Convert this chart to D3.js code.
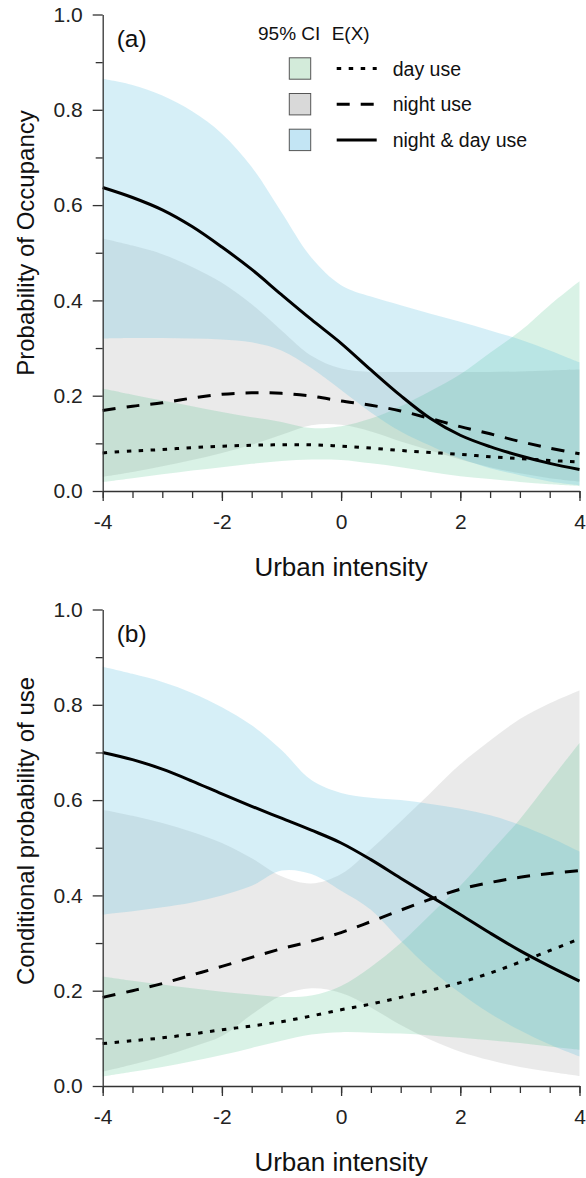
<!DOCTYPE html>
<html>
<head>
<meta charset="utf-8">
<script src="https://cdn.jsdelivr.net/npm/d3@7"></script>
<style>
  body { margin: 0; background: #fff; }
  svg { display: block; font-family: "Liberation Sans", Arial, sans-serif; }
  .axis path, .axis line { stroke: #333; stroke-width: 1.3; }
  .axis text { font-size: 21px; fill: #222; font-family: "Liberation Sans", Arial, sans-serif; }
</style>
</head>
<body>
<div id="chart"></div>
<script>
// Urban intensity values where curves were read
var urban = [-4, -3.5, -3, -2.5, -2, -1.5, -1, -0.5, 0, 0.5, 1, 1.5, 2, 2.5, 3, 3.5, 4];

// (a) Probability of occupancy
var occDay      = [.080,.084,.087,.091,.094,.096,.097,.097,.094,.090,.085,.081,.077,.072,.068,.064,.061];
var occNight    = [.169,.178,.185,.195,.203,.206,.205,.199,.189,.180,.168,.152,.135,.120,.104,.090,.078];
var occBoth     = [.637,.616,.590,.555,.512,.465,.412,.360,.310,.254,.200,.152,.117,.093,.074,.058,.045];
var occDayHi    = [.215,.202,.190,.178,.166,.155,.145,.132,.136,.152,.178,.210,.245,.290,.335,.390,.440];
var occDayLo    = [.019,.027,.035,.043,.050,.057,.063,.066,.065,.058,.050,.040,.031,.025,.019,.014,.010];
var occNightHi  = [.530,.515,.497,.470,.437,.392,.337,.284,.257,.250,.250,.250,.250,.250,.251,.253,.255];
var occNightLo  = [.030,.040,.052,.065,.080,.097,.118,.138,.139,.125,.104,.085,.066,.050,.037,.027,.020];
var occBothHi   = [.865,.852,.830,.797,.750,.680,.585,.490,.432,.408,.390,.372,.355,.337,.318,.295,.270];
var occBothLo   = [.320,.321,.321,.320,.318,.312,.295,.258,.212,.165,.125,.095,.068,.048,.033,.020,.012];

// (b) Conditional probability of use
var useDay      = [.089,.095,.101,.109,.118,.126,.135,.147,.160,.172,.186,.201,.217,.237,.260,.284,.309];
var useNight    = [.186,.200,.215,.233,.251,.270,.288,.304,.322,.345,.369,.392,.413,.427,.438,.446,.452];
var useBoth     = [.700,.685,.665,.640,.613,.587,.562,.537,.510,.475,.436,.398,.360,.321,.284,.251,.220];
var useDayHi    = [.230,.221,.213,.205,.198,.192,.187,.190,.210,.250,.300,.360,.420,.490,.560,.640,.720];
var useDayLo    = [.020,.030,.040,.052,.065,.080,.095,.108,.113,.112,.110,.106,.101,.096,.090,.083,.076];
var useNightHi  = [.580,.567,.552,.533,.510,.478,.440,.425,.445,.497,.555,.615,.675,.725,.770,.803,.830];
var useNightLo  = [.030,.045,.062,.082,.105,.150,.190,.205,.195,.165,.128,.097,.072,.054,.040,.030,.021];
var useBothHi   = [.880,.865,.848,.825,.795,.757,.705,.642,.615,.605,.600,.592,.582,.568,.548,.522,.492];
var useBothLo   = [.360,.367,.375,.385,.400,.420,.452,.445,.410,.370,.305,.245,.195,.152,.117,.087,.062];

var xMajor = [-4, -2, 0, 2, 4];
var yMajor = [0, 0.2, 0.4, 0.6, 0.8, 1.0];
var seriesNames = ["day use", "night use", "night & day use"];

var W = 586, H = 1178;
var svg = d3.select("#chart").append("svg").attr("width", W).attr("height", H);

var bandStyle = [
  { fill: "#14b064", op: 0.16 },   // day
  { fill: "#808080", op: 0.17 },   // night
  { fill: "#55bedc", op: 0.24 }    // night & day
];
var drawOrder = [1, 0, 2];
var lineDash = ["4.5,7.5", "13,11", null];

function tickText(d) { return String(d); }

function drawPanel(top, label, yTitle, titleMid, bands, lines) {
  var x = d3.scaleLinear().domain([-4, 4]).range([102.7, 579.5]);
  var y = d3.scaleLinear().domain([0, 1]).range([top + 476.5, top]);
  var g = svg.append("g");

  var area = d3.area()
    .x(function(d) { return x(d.x); })
    .y0(function(d) { return y(d.lo); })
    .y1(function(d) { return y(d.hi); })
    .curve(d3.curveCatmullRom.alpha(0.5));

  drawOrder.forEach(function(i) {
    var b = bands[i];
    var pts = urban.map(function(u, j) { return { x: u, lo: b[0][j], hi: b[1][j] }; });
    g.append("path").datum(pts)
      .attr("d", area)
      .attr("fill", bandStyle[i].fill)
      .attr("fill-opacity", bandStyle[i].op);
  });

  var line = d3.line()
    .x(function(d) { return x(d.x); })
    .y(function(d) { return y(d.v); })
    .curve(d3.curveCatmullRom.alpha(0.5));

  lines.forEach(function(s, i) {
    var pts = urban.map(function(u, j) { return { x: u, v: s[j] }; });
    g.append("path").datum(pts)
      .attr("d", line)
      .attr("fill", "none")
      .attr("stroke", "#000")
      .attr("stroke-width", 3)
      .attr("stroke-dasharray", lineDash[i]);
  });

  // x axis: minor ticks then labelled ticks
  g.append("g").attr("class", "axis")
    .attr("transform", "translate(0," + y(0) + ")")
    .call(d3.axisBottom(x).tickValues(d3.range(-4, 4.01, 0.5)).tickSize(7).tickSizeOuter(0).tickFormat(""));
  g.append("g").attr("class", "axis")
    .attr("transform", "translate(0," + y(0) + ")")
    .call(d3.axisBottom(x).tickValues(xMajor).tickSize(10).tickSizeOuter(0).tickPadding(13).tickFormat(tickText))
    .call(function(a) { a.select(".domain").remove(); });

  // y axis
  g.append("g").attr("class", "axis")
    .attr("transform", "translate(" + x(-4) + ",0)")
    .call(d3.axisLeft(y).tickValues(d3.range(0.1, 1, 0.2)).tickSize(7).tickSizeOuter(0).tickFormat(""));
  g.append("g").attr("class", "axis")
    .attr("transform", "translate(" + x(-4) + ",0)")
    .call(d3.axisLeft(y).tickValues(yMajor).tickSize(10).tickSizeOuter(0).tickPadding(10).tickFormat(d3.format(".1f")))
    .call(function(a) { a.select(".domain").remove(); });

  g.append("text")
    .attr("x", 116.7).attr("y", top + 32)
    .attr("font-size", 24.5).attr("fill", "#111")
    .text(label);

  g.append("text")
    .attr("x", (x(-4) + x(4)) / 2).attr("y", y(0) + 85)
    .attr("text-anchor", "middle").attr("font-size", 26).attr("fill", "#111")
    .text("Urban intensity");

  g.append("text")
    .attr("transform", "translate(33.5," + titleMid + ") rotate(-90)")
    .attr("text-anchor", "middle").attr("font-size", 24).attr("fill", "#111")
    .text(yTitle);

  return g;
}

var ga = drawPanel(14.5, "(a)", "Probability of Occupancy", 243,
  [[occDayLo, occDayHi], [occNightLo, occNightHi], [occBothLo, occBothHi]],
  [occDay, occNight, occBoth]);

drawPanel(609.5, "(b)", "Conditional probability of use", 831,
  [[useDayLo, useDayHi], [useNightLo, useNightHi], [useBothLo, useBothHi]],
  [useDay, useNight, useBoth]);

// Legend (panel a)
var boxFill = ["#d3ebda", "#d9d9d9", "#c3e5f4"];
var leg = ga.append("g");
leg.append("text").attr("x", 258).attr("y", 39.5).attr("font-size", 19).attr("fill", "#111").text("95% CI");
leg.append("text").attr("x", 331.7).attr("y", 39.5).attr("font-size", 19).attr("fill", "#111").text("E(X)");
seriesNames.forEach(function(name, i) {
  var cy = 68.5 + i * 35.7;
  leg.append("rect")
    .attr("x", 289.3).attr("y", cy - 10.7).attr("width", 21.4).attr("height", 21.4)
    .attr("fill", boxFill[i]).attr("stroke", "#555").attr("stroke-width", 1);
  leg.append("line")
    .attr("x1", 336.7).attr("x2", 376.7).attr("y1", cy).attr("y2", cy)
    .attr("stroke", "#000").attr("stroke-width", 3)
    .attr("stroke-dasharray", lineDash[i]);
  leg.append("text")
    .attr("x", 392.7).attr("y", cy + 7)
    .attr("font-size", 19.5).attr("fill", "#111")
    .text(name);
});
</script>
</body>
</html>
